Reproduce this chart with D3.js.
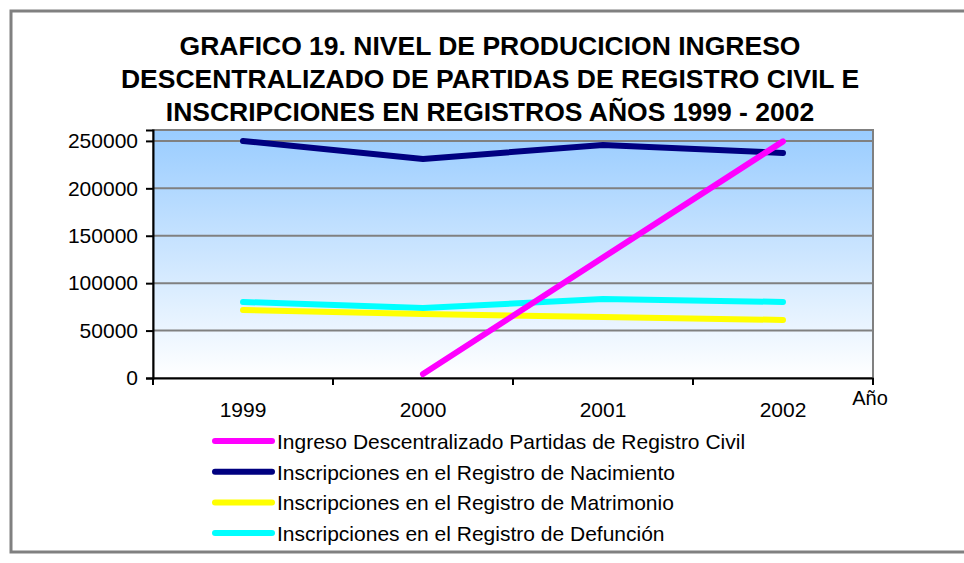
<!DOCTYPE html>
<html>
<head>
<meta charset="utf-8">
<script src="https://cdn.jsdelivr.net/npm/d3@7"></script>
<style>
  body { margin: 0; background: #fff; }
  text { font-family: "Liberation Sans", Arial, sans-serif; }
</style>
</head>
<body>
<svg id="chart" width="964" height="563"></svg>
<script>
var years = ["1999", "2000", "2001", "2002"];
var yTicks = [0, 50000, 100000, 150000, 200000, 250000];
var seriesNames = [
  "Ingreso Descentralizado Partidas de Registro Civil",
  "Inscripciones en el Registro de Nacimiento",
  "Inscripciones en el Registro de Matrimonio",
  "Inscripciones en el Registro de Defunción"
];
var ingreso = [null, 4200, 127000, 249500];
var nacimiento = [250000, 231000, 245800, 237300];
var matrimonio = [71700, 67500, 64300, 61200];
var defuncion = [80200, 73800, 83300, 80200];
var colors = ["#ff00ff", "#000080", "#ffff00", "#00ffff"];
var titleLines = [
  "GRAFICO 19. NIVEL DE PRODUCICION INGRESO",
  "DESCENTRALIZADO DE PARTIDAS DE REGISTRO CIVIL E",
  "INSCRIPCIONES EN REGISTROS AÑOS 1999 - 2002"
];

var allSeries = [ingreso, nacimiento, matrimonio, defuncion];

var svg = d3.select("#chart");
var pLeft = 153, pRight = 873, pTop = 130, pBottom = 378;

// outer frame
svg.append("path")
  .attr("d", "M964,11 H11 V552 H964")
  .attr("fill", "none")
  .attr("stroke", "#808080")
  .attr("stroke-width", 3);

// title
svg.append("g").selectAll("text")
  .data(titleLines)
  .enter().append("text")
  .attr("x", 490)
  .attr("y", function (d, i) { return 55 + i * 33; })
  .attr("text-anchor", "middle")
  .style("font-size", "26.5px")
  .style("font-weight", "bold")
  .text(function (d) { return d; });

var x = d3.scaleBand().domain(years).range([pLeft, pRight]);
var y = d3.scaleLinear().domain([0, 261500]).range([pBottom, pTop]);

// plot background gradient
var grad = svg.append("defs").append("linearGradient")
  .attr("id", "bg").attr("x1", 0).attr("y1", 0).attr("x2", 0).attr("y2", 1);
grad.append("stop").attr("offset", "0%").attr("stop-color", "#99ccff");
grad.append("stop").attr("offset", "100%").attr("stop-color", "#ffffff");

svg.append("rect")
  .attr("x", pLeft).attr("y", pTop)
  .attr("width", pRight - pLeft).attr("height", pBottom - pTop)
  .attr("fill", "url(#bg)")
  .attr("stroke", "#808080")
  .attr("stroke-width", 2);

// gridlines
svg.append("g").selectAll("line")
  .data(yTicks.slice(1))
  .enter().append("line")
  .attr("x1", pLeft).attr("x2", pRight)
  .attr("y1", function (d) { return y(d); })
  .attr("y2", function (d) { return y(d); })
  .attr("stroke", "#808080")
  .attr("stroke-width", 2);

// Y axis
var yAxis = svg.append("g")
  .attr("transform", "translate(" + pLeft + ",0)")
  .call(d3.axisLeft(y).tickValues(yTicks).tickFormat(d3.format("d")).tickSize(7).tickPadding(8));
yAxis.select(".domain").attr("stroke", "#000").attr("stroke-width", 2);
yAxis.selectAll(".tick line").attr("stroke", "#000").attr("stroke-width", 2);
yAxis.selectAll("text").style("font-size", "21px").attr("fill", "#000")
  .attr("font-family", "Liberation Sans, Arial, sans-serif");

// X axis
var xAxis = svg.append("g")
  .attr("transform", "translate(0," + pBottom + ")")
  .call(d3.axisBottom(x).tickSize(0).tickPadding(24));
xAxis.select(".domain").attr("stroke", "#000").attr("stroke-width", 2);
xAxis.selectAll("text").style("font-size", "21px").attr("fill", "#000")
  .attr("font-family", "Liberation Sans, Arial, sans-serif");

// ticks between categories
var edges = years.map(function (d) { return x(d); }).concat([pRight]);
svg.append("g").selectAll("line")
  .data(edges)
  .enter().append("line")
  .attr("x1", function (d) { return d; })
  .attr("x2", function (d) { return d; })
  .attr("y1", pBottom).attr("y2", pBottom + 7)
  .attr("stroke", "#000").attr("stroke-width", 2);

svg.append("text")
  .attr("x", 870).attr("y", 405)
  .attr("text-anchor", "middle")
  .style("font-size", "20px")
  .text("Año");

// lines
var line = d3.line()
  .defined(function (d) { return d != null; })
  .x(function (d, i) { return x(years[i]) + x.bandwidth() / 2; })
  .y(function (d) { return y(d); });

var drawOrder = [1, 3, 2, 0];
svg.append("g").selectAll("path")
  .data(drawOrder)
  .enter().append("path")
  .attr("d", function (k) { return line(allSeries[k]); })
  .attr("fill", "none")
  .attr("stroke", function (k) { return colors[k]; })
  .attr("stroke-width", 6)
  .attr("stroke-linecap", "round")
  .attr("stroke-linejoin", "round");

// legend
var leg = svg.append("g").selectAll("g")
  .data(seriesNames)
  .enter().append("g")
  .attr("transform", function (d, i) { return "translate(215," + (441 + i * 30.7) + ")"; });
leg.append("line")
  .attr("x1", 0).attr("x2", 57)
  .attr("stroke", function (d, i) { return colors[i]; })
  .attr("stroke-width", 6)
  .attr("stroke-linecap", "round");
leg.append("text")
  .attr("x", 62).attr("y", 8)
  .style("font-size", "21px")
  .text(function (d) { return d; });
</script>
</body>
</html>
